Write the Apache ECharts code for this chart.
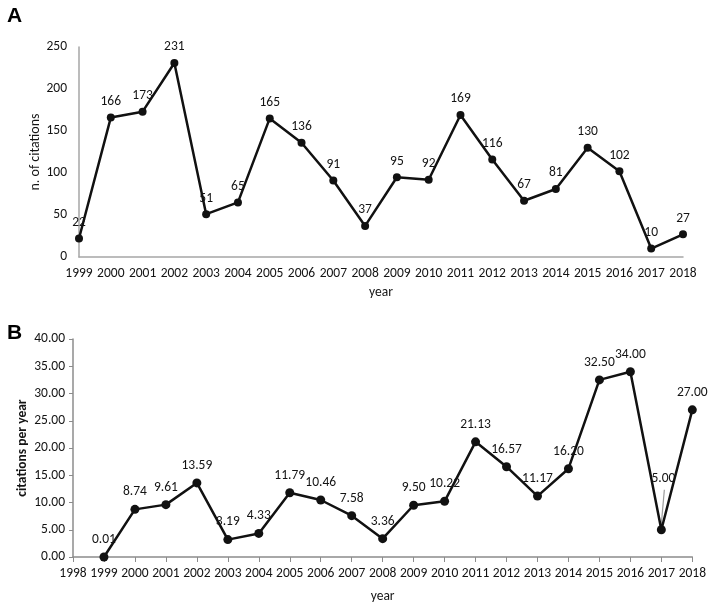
<!DOCTYPE html>
<html>
<head>
<meta charset="utf-8">
<script src="https://cdn.jsdelivr.net/npm/echarts@6/dist/echarts.min.js"></script>
<style>html,body{margin:0;padding:0;background:#fff;}#c{width:709px;height:607px;}</style>
</head>
<body>
<div id="c"></div>
<script>
// Panel A: number of citations per year
var yearsA = ['1999','2000','2001','2002','2003','2004','2005','2006','2007','2008','2009','2010','2011','2012','2013','2014','2015','2016','2017','2018'];
var citations = [22,166,173,231,51,65,165,136,91,37,95,92,169,116,67,81,130,102,10,27];
var yTicksA = {min:0, max:250, interval:50};

// Panel B: citations per year (normalised)
var yearsB = ['1998','1999','2000','2001','2002','2003','2004','2005','2006','2007','2008','2009','2010','2011','2012','2013','2014','2015','2016','2017','2018'];
var citPerYear = ['-',0.01,8.74,9.61,13.59,3.19,4.33,11.79,10.46,7.58,3.36,9.50,10.22,21.13,16.57,11.17,16.20,32.50,34.00,5.00,27.00];
var yTicksB = {min:0, max:40, interval:5};
var raisedLabelYear = '2017';

var FONT = 'Carlito, Lato, sans-serif';
var TXT = '#141414';
var raisedIdx = yearsB.indexOf(raisedLabelYear);
var dataB = citPerYear.map(function(v, i){
  if (i === raisedIdx) { return {value:v, label:{show:false}}; }
  return v;
});
var raisedData = [[raisedIdx, citPerYear[raisedIdx]]];

var chart = echarts.init(document.getElementById('c'), null, {renderer:'canvas'});
chart.setOption({
  animation:false,
  backgroundColor:'#fff',
  title:[
    {text:'A', left:2, top:1, textStyle:{fontSize:21, fontWeight:'bold', color:'#000', fontFamily:'Liberation Sans'}},
    {text:'B', left:2, top:318, textStyle:{fontSize:21, fontWeight:'bold', color:'#000', fontFamily:'Liberation Sans'}}
  ],
  grid:[
    {left:79, right:26, top:47, height:210},
    {left:73, right:16, top:339, height:218}
  ],
  xAxis:[
    {gridIndex:0, type:'category', data:yearsA, boundaryGap:false,
     axisLine:{lineStyle:{color:'#a6a6a6', width:1.5}}, axisTick:{show:false},
     axisLabel:{color:TXT, fontSize:13.5, fontFamily:FONT, margin:10, interval:0},
     name:'year', nameLocation:'middle', nameGap:29, nameMoveOverlap:false, nameTextStyle:{color:TXT, fontSize:13.5, fontFamily:FONT}},
    {gridIndex:1, type:'category', data:yearsB, boundaryGap:false,
     axisLine:{lineStyle:{color:'#8c8c8c', width:1.5}}, axisTick:{show:true, length:5, lineStyle:{color:'#8c8c8c'}, interval:0},
     axisLabel:{color:TXT, fontSize:13.5, fontFamily:FONT, margin:10, interval:0},
     name:'year', nameLocation:'middle', nameGap:33, nameMoveOverlap:false, nameTextStyle:{color:TXT, fontSize:13.5, fontFamily:FONT}}
  ],
  yAxis:[
    {gridIndex:0, type:'value', min:yTicksA.min, max:yTicksA.max, interval:yTicksA.interval,
     axisLine:{show:true, lineStyle:{color:'#a6a6a6', width:1.5}}, axisTick:{show:false}, splitLine:{show:false},
     axisLabel:{color:TXT, fontSize:13.5, fontFamily:FONT, margin:12},
     name:'n. of citations', nameLocation:'middle', nameGap:37, nameMoveOverlap:false, nameTextStyle:{color:TXT, fontSize:14, fontFamily:FONT}},
    {gridIndex:1, type:'value', min:yTicksB.min, max:yTicksB.max, interval:yTicksB.interval,
     axisLine:{show:true, lineStyle:{color:'#8c8c8c', width:1.5}}, axisTick:{show:true, length:4, lineStyle:{color:'#8c8c8c'}}, splitLine:{show:false},
     axisLabel:{color:TXT, fontSize:13.5, fontFamily:FONT, margin:8, formatter:function(v){return v.toFixed(2);}},
     name:'citations per year', nameLocation:'middle', nameGap:43, nameMoveOverlap:false, nameTextStyle:{color:TXT, fontSize:13.5, fontWeight:'bold', fontFamily:FONT}}
  ],
  series:[
    {type:'line', xAxisIndex:0, yAxisIndex:0, data:citations, symbol:'circle', symbolSize:8,
     itemStyle:{color:'#111'}, lineStyle:{color:'#111', width:2.5},
     label:{show:true, position:'top', distance:5, color:TXT, fontSize:13.5, fontFamily:FONT}},
    {type:'line', xAxisIndex:1, yAxisIndex:1, data:dataB, symbol:'circle', symbolSize:9,
     itemStyle:{color:'#111'}, lineStyle:{color:'#111', width:2.5},
     label:{show:true, position:'top', distance:6, color:TXT, fontSize:13.5, fontFamily:FONT,
            formatter:function(p){return Number(p.value).toFixed(2);}}},
    {type:'custom', xAxisIndex:1, yAxisIndex:1, data:raisedData, z:1,
     renderItem:function(params, api){
       var pt = api.coord([api.value(0), api.value(1)]);
       return {type:'group', children:[
         {type:'line', shape:{x1:pt[0], y1:pt[1]-6, x2:pt[0]+3, y2:pt[1]-40}, style:{stroke:'#9a9a9a', lineWidth:1.2}},
         {type:'text', x:pt[0]+2, y:pt[1]-51, style:{text:api.value(1).toFixed(2), fill:TXT, font:'13.5px ' + FONT, textAlign:'center', textVerticalAlign:'middle'}}
       ]};
     }}
  ]
});
</script>
</body>
</html>
